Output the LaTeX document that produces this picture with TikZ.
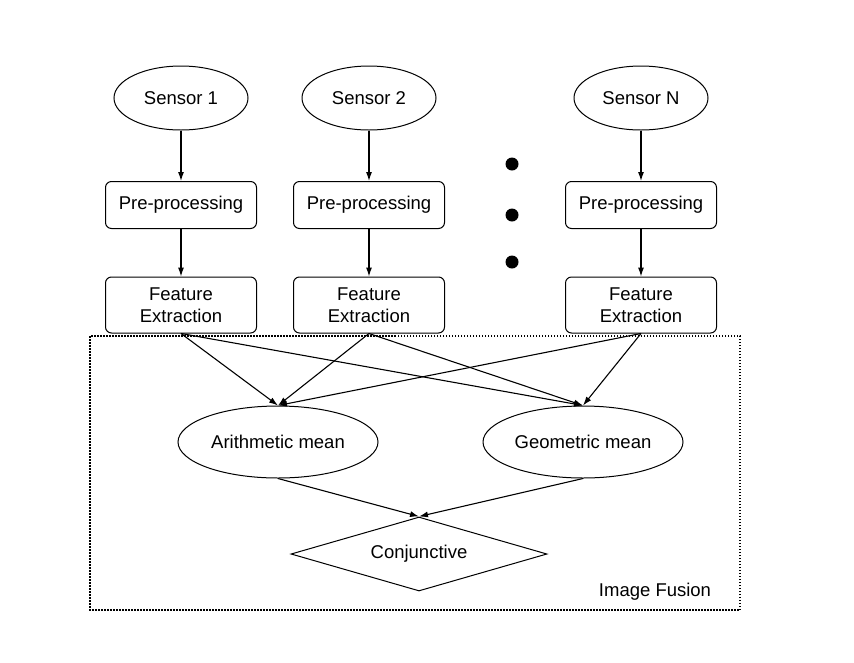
\documentclass[tikz,border=0pt]{standalone}
\usepackage{fontspec}
\setmainfont{Liberation Sans}
\usetikzlibrary{shapes.geometric,arrows.meta,positioning}

\begin{document}
\begin{tikzpicture}[x=1pt,y=-1pt,
  font=\fontsize{18.5}{22}\selectfont,
  sensor/.style={draw,ellipse,line width=1pt,minimum width=134pt,minimum height=64pt,inner sep=0pt},
  stagebox/.style={draw,rounded corners=6pt,line width=1pt,minimum width=151pt,inner sep=0pt,align=center},
  meannode/.style={draw,ellipse,line width=1pt,minimum width=200pt,minimum height=72pt,inner sep=0pt},
  flow/.style={-{Latex[length=9pt,width=6pt]},line width=1.1pt},
  fusionbox/.style={line width=1.5pt,dash pattern=on 1.5pt off 1.5pt}]
\useasboundingbox (0,0) rectangle (854,662);

% sensors
\node[sensor] (s1) at (181,98) {Sensor 1};
\node[sensor] (s2) at (369,98) {Sensor 2};
\node[sensor] (sn) at (641,98) {Sensor N};

\node[stagebox,minimum height=47pt] (pre1) at (181,205) {Pre-processing};
\node[stagebox,minimum height=47pt] (pre2) at (369,205) {Pre-processing};
\node[stagebox,minimum height=47pt] (pren) at (641,205) {Pre-processing};

\node[stagebox,minimum height=56pt] (fe1) at (181,305) {Feature\\Extraction};
\node[stagebox,minimum height=56pt] (fe2) at (369,305) {Feature\\Extraction};
\node[stagebox,minimum height=56pt] (fen) at (641,305) {Feature\\Extraction};

\draw[flow] (s1) -- (pre1);
\draw[flow] (s2) -- (pre2);
\draw[flow] (sn) -- (pren);
\draw[flow] (pre1) -- (fe1);
\draw[flow] (pre2) -- (fe2);
\draw[flow] (pren) -- (fen);

\foreach \y in {164,215,262}
  \fill (512,\y) circle (6.5pt);

% fusion part
\draw[fusionbox] (90,336) rectangle (740,610);

\node[meannode] (am) at (278,442) {Arithmetic mean};
\node[meannode] (gm) at (583,442) {Geometric mean};
\node[draw,diamond,aspect=3.46,line width=1pt,minimum width=256pt,minimum height=74pt,inner sep=0pt] (conj) at (419,554) {Conjunctive};
\node (fusion) at (655,592) {Image Fusion};

\foreach \f in {fe1,fe2,fen} {
  \draw[flow] (\f.south) -- (am.north);
  \draw[flow] (\f.south) -- (gm.north);
}
\draw[flow] (am.south) -- (conj.north);
\draw[flow] (gm.south) -- (conj.north);
\end{tikzpicture}
\end{document}
